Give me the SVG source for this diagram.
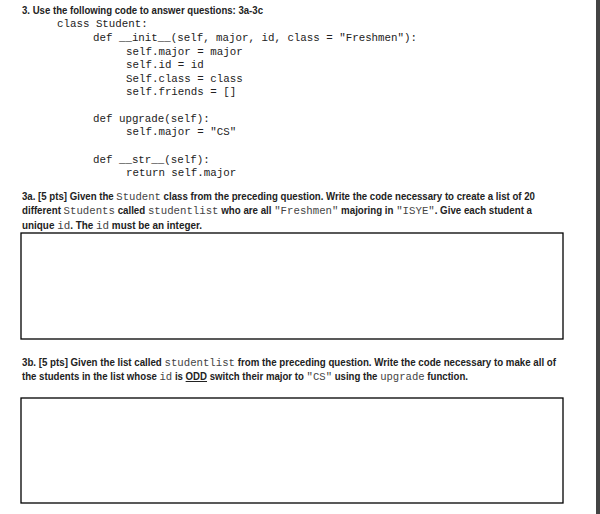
<svg xmlns="http://www.w3.org/2000/svg" width="600" height="514" viewBox="0 0 600 514">
<style>
.s{font-family:"Liberation Sans",Arial,sans-serif;font-weight:bold;font-size:10px;fill:#222}
.m{font-family:"Liberation Mono","DejaVu Sans Mono",monospace;font-size:10.8px;fill:#222}
.mi{font-family:"Liberation Mono","DejaVu Sans Mono",monospace;font-weight:normal;fill:#444;font-size:11px}
.box{fill:#fff;stroke:#000;stroke-width:1.3}
</style>
<rect width="600" height="514" fill="#fff"/>
<rect x="596" y="0" width="4" height="514" fill="#444"/>
<text class="s" x="22" y="14" textLength="241" lengthAdjust="spacingAndGlyphs">3. Use the following code to answer questions: 3a-3c</text>
<g class="m">
<text x="57" y="27">class Student:</text>
<text x="93" y="41">def __init__(self, major, id, class = "Freshmen"):</text>
<text x="126" y="55">self.major = major</text>
<text x="126" y="68">self.id = id</text>
<text x="126" y="82">Self.class = class</text>
<text x="126" y="95">self.friends = []</text>
<text x="93" y="122">def upgrade(self):</text>
<text x="126" y="135">self.major = "CS"</text>
<text x="93" y="163">def __str__(self):</text>
<text x="126" y="176">return self.major</text>
</g>
<text class="s" x="22" y="200" textLength="513" lengthAdjust="spacingAndGlyphs">3a. [5 pts]  Given the <tspan class="mi">Student</tspan> class from the preceding question. Write the code necessary to create a list of 20</text>
<text class="s" x="22" y="214" textLength="510" lengthAdjust="spacingAndGlyphs">different <tspan class="mi">Students</tspan> called <tspan class="mi">studentlist</tspan> who are all <tspan class="mi">"Freshmen"</tspan> majoring in <tspan class="mi">"ISYE"</tspan>. Give each student a</text>
<text class="s" x="22" y="229" textLength="180" lengthAdjust="spacingAndGlyphs">unique <tspan class="mi">id</tspan>. The <tspan class="mi">id</tspan>  must be an integer.</text>
<rect id="box3a" class="box" x="21" y="233" width="542" height="106"/>
<text class="s" x="22" y="366" textLength="534" lengthAdjust="spacingAndGlyphs">3b. [5 pts]  Given the list called <tspan class="mi">studentlist</tspan> from the preceding question. Write the code necessary to make all of</text>
<text class="s" x="22" y="380" textLength="446" lengthAdjust="spacingAndGlyphs">the students in the list whose <tspan class="mi">id</tspan> is <tspan text-decoration="underline">ODD</tspan> switch their major to <tspan class="mi">"CS"</tspan> using the <tspan class="mi">upgrade</tspan> function.</text>
<rect id="box3b" class="box" x="21" y="398" width="542" height="105"/>
</svg>
